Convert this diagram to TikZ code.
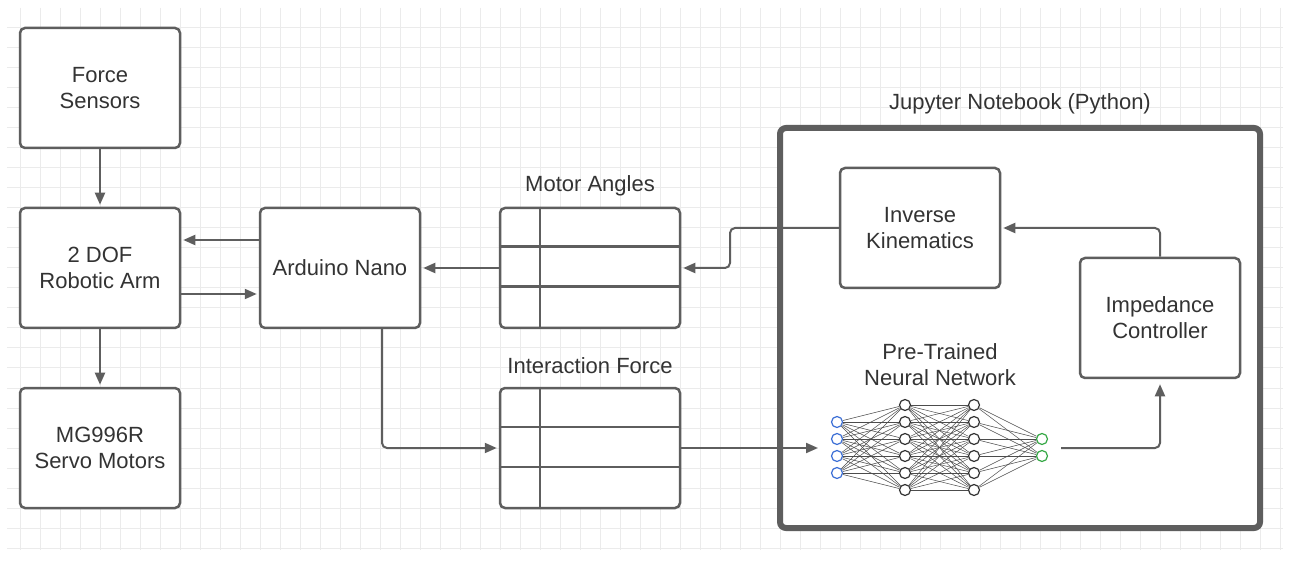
\documentclass[tikz,border=0pt]{standalone}
\usepackage{fontspec}
\setmainfont{Liberation Sans}
\usetikzlibrary{arrows.meta,calc}
\definecolor{edgec}{HTML}{5E5E5E}
\definecolor{txt}{HTML}{333333}
\definecolor{gridc}{HTML}{EBEBEB}
\definecolor{nnblue}{HTML}{3C6FD6}
\definecolor{nngreen}{HTML}{35A845}
\begin{document}
\begin{tikzpicture}[x=1pt,y=-1pt,
  font=\fontsize{22}{26}\selectfont, text=txt,
  box/.style={draw=edgec, line width=2.5pt, fill=white, rounded corners=5pt,
    minimum width=160pt, minimum height=120pt, align=center, inner sep=0pt},
  tbl/.style={box, minimum width=180pt},
  conn/.style={draw=edgec, line width=2pt, -{Triangle[length=12pt,width=10pt]},
    rounded corners=5pt, shorten >=2pt},
  lbl/.style={inner sep=0pt, align=center},
  inner/.style={draw=edgec, line width=2.5pt},
  neuron/.style={circle, draw=black!80, line width=1.2pt, fill=white,
    minimum size=11pt, inner sep=0pt},
  syn/.style={draw=black!70, line width=0.5pt}]
\useasboundingbox (0,0) rectangle (1291,561);
\fill[white] (0,0) rectangle (1291,561);
% grid
\foreach \x in {20,40,...,1280} \draw[gridc, line width=1pt] (\x,8) -- (\x,550);
\foreach \y in {28,48,...,548} \draw[gridc, line width=1pt] (7,\y) -- (1283,\y);

% left column
\node[box] (fs) at (100,88) {Force\\Sensors};
\node[box] (arm) at (100,268) {2 DOF\\Robotic Arm};
\node[box] (servo) at (100,448) {MG996R\\Servo Motors};
\node[box] (ard) at (340,268) {Arduino Nano};

% tables
\node[tbl] (ma) at (590,268) {};
\node[tbl] (if) at (590,448) {};
\draw[inner] ($(ma.north west)+(41,0)$) -- ($(ma.south west)+(41,0)$);
\draw[inner] ($(ma.north west)+(0,40)$) -- ($(ma.north east)+(0,40)$);
\draw[inner] ($(ma.north west)+(0,80)$) -- ($(ma.north east)+(0,80)$);
\draw[inner] ($(if.north west)+(41,0)$) -- ($(if.south west)+(41,0)$);
\draw[inner] ($(if.north west)+(0,40)$) -- ($(if.north east)+(0,40)$);
\draw[inner] ($(if.north west)+(0,80)$) -- ($(if.north east)+(0,80)$);
\node[lbl] (malbl) at (590,186) {Motor Angles};
\node[lbl] (iflbl) at (590,366) {Interaction Force};

% Jupyter box
\node[draw=edgec, line width=6pt, fill=white, rounded corners=6pt,
  minimum width=480pt, minimum height=400pt] (jup) at (1020,328) {};
\node[lbl] (juplbl) at (1020,104) {Jupyter Notebook (Python)};
\node[box] (ik) at (920,228) {Inverse\\Kinematics};
\node[box] (imp) at (1160,318) {Impedance\\Controller};
\node[lbl] (nnlbl) at (940,365) {Pre-Trained\\Neural Network};

% neural network
\foreach \i/\y in {1/422,2/439,3/456,4/473}
  \node[neuron, draw=nnblue] (a\i) at (837,\y) {};
\foreach \i/\y in {1/405,2/422,3/439,4/456,5/473,6/490}
  \node[neuron] (b\i) at (905,\y) {};
\foreach \i/\y in {1/405,2/422,3/439,4/456,5/473,6/490}
  \node[neuron] (c\i) at (974,\y) {};
\foreach \i/\y in {1/439,2/456}
  \node[neuron, draw=nngreen] (d\i) at (1042,\y) {};
\foreach \i in {1,...,4} \foreach \j in {1,...,6} \draw[syn] (a\i) -- (b\j);
\foreach \i in {1,...,6} \foreach \j in {1,...,6} \draw[syn] (b\i) -- (c\j);
\foreach \i in {1,...,6} \foreach \j in {1,2} \draw[syn] (c\i) -- (d\j);
\coordinate (nnin) at (820,448);
\coordinate (nnout) at (1061,448);

% connectors
\draw[conn] (fs) -- (arm);
\draw[conn] (arm) -- (servo);
\draw[conn] (ard.west |- 0,240) -- (arm.east |- 0,240);
\draw[conn] (arm.east |- 0,294) -- (ard.west |- 0,294);
\draw[conn] (ma) -- (ard);
\draw[conn] (ik.west) -- (730,228) |- (ma.east);
\draw[conn] (ard.south -| 382,0) |- (if.west);
\draw[conn] (if.east) -- (nnin);
\draw[conn] (nnout) -| ($(imp.south)+(0,3)$);
\draw[conn] (imp.north) |- (ik.east);
\end{tikzpicture}
\end{document}
